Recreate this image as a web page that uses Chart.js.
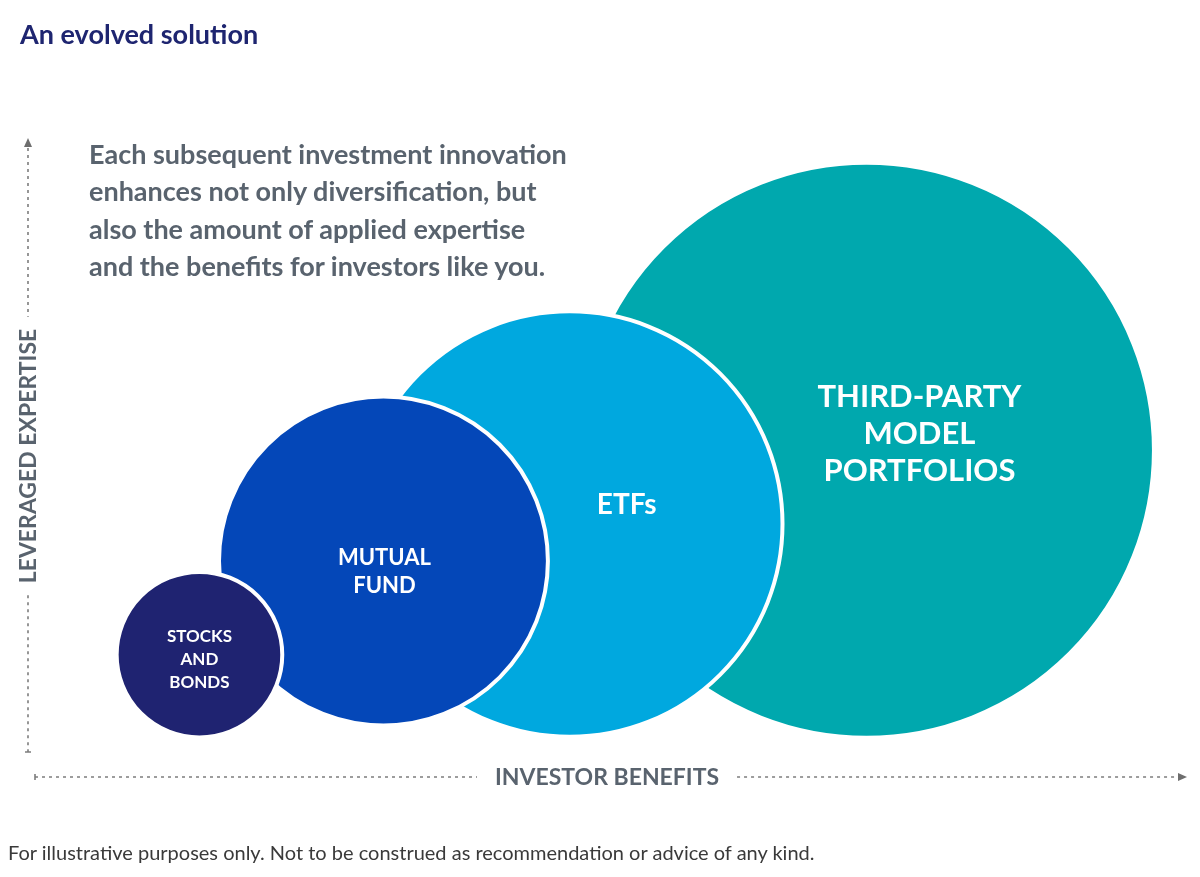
<!DOCTYPE html>
<html>
<head>
<meta charset="utf-8">
<script src="https://cdn.jsdelivr.net/npm/chart.js@4"></script>
<style>
  body { margin: 0; background: #fff; font-family: "Lato", sans-serif; }
  #wrap { position: relative; width: 1200px; height: 877px; }
  #wrap canvas { position: absolute; left: 0; top: 0; }
  .title { position: absolute; left: 20px; top: 17px; font-size: 27px; font-weight: 700; color: #1e2570; margin: 0; }
  .intro { position: absolute; left: 89px; top: 135px; font-size: 27px; line-height: 37.3px; font-weight: 700; color: #59636e; margin: 0; }
  .note { position: absolute; left: 8px; top: 840px; font-size: 20px; color: #3a3a3a; margin: 0; }
</style>
</head>
<body>
<div id="wrap">
  <canvas id="evolvedChart" width="1200" height="877"></canvas>
  <p class="title">An evolved solution</p>
  <p class="intro">Each subsequent investment innovation<br>enhances not only diversification, but<br>also the amount of applied expertise<br>and the benefits for investors like you.</p>
  <p class="note">For illustrative purposes only. Not to be construed as recommendation or advice of any kind.</p>
</div>
<script>
// products, from the oldest / smallest to the newest / largest
const products = [["STOCKS", "AND", "BONDS"], ["MUTUAL", "FUND"], ["ETFs"], ["THIRD-PARTY", "MODEL", "PORTFOLIOS"]];
const investorBenefits = [14.3, 30.3, 46.5, 72.3];   // x, 0-100
const leveragedExpertise = [19.2, 33.9, 39.7, 51.3]; // y, 0-100
const bubbleSize = [7.2, 14.3, 18.5, 25.0];          // radius, in x units
const axisLabels = { x: "INVESTOR BENEFITS", y: "LEVERAGED EXPERTISE" };

const colors = ["#1f2371", "#0447b8", "#00a8df", "#00a8ae"];
const labelFont = [
  { size: 17, line: 23, dx: 0, dy: 5 },
  { size: 22, line: 28, dx: 1, dy: 11 },
  { size: 28, line: 30, dx: 57, dy: -19 },
  { size: 31, line: 37, dx: 53, dy: -16 },
];
const grey = "#59636e";

// dataset 0 is drawn last, so the smallest bubble sits on top
const datasets = products.map((name, i) => ({
  label: name.join(" "),
  data: [{ x: investorBenefits[i], y: leveragedExpertise[i], size: bubbleSize[i], r: 0 }],
  backgroundColor: colors[i],
  borderColor: "#ffffff",
  borderWidth: 4,
  hoverRadius: 0,
  clip: false,
}));

// Labels drawn in the middle of each bubble
const bubbleLabels = {
  id: "bubbleLabels",
  afterDatasetsDraw(chart) {
    const { ctx } = chart;
    ctx.save();
    ctx.fillStyle = "#ffffff";
    ctx.textAlign = "center";
    ctx.textBaseline = "middle";
    chart.data.datasets.forEach((ds, i) => {
      const pt = chart.getDatasetMeta(i).data[0];
      const f = labelFont[i];
      const lines = products[i];
      ctx.font = `700 ${f.size}px Lato, sans-serif`;
      const top = pt.y + f.dy - ((lines.length - 1) * f.line) / 2;
      lines.forEach((t, k) => ctx.fillText(t, pt.x + f.dx, top + k * f.line));
    });
    ctx.restore();
  },
};

// Dotted axes with arrows and the axis titles set in the line
const dottedAxes = {
  id: "dottedAxes",
  beforeDatasetsDraw(chart) {
    const { ctx, chartArea: { left, right, top, bottom } } = chart;
    const vx = left - 7;
    const vBottom = bottom - 25;
    const hy = bottom;
    ctx.save();
    ctx.strokeStyle = "#7d7d7d";
    ctx.fillStyle = "#6e6e6e";
    ctx.lineWidth = 1.6;
    ctx.setLineDash([3, 4]);

    // vertical axis
    ctx.font = "700 23px Lato, sans-serif";
    const yMid = (top + vBottom) / 2 + 10;
    const yHalf = ctx.measureText(axisLabels.y).width / 2;
    ctx.beginPath();
    ctx.moveTo(vx, top + 8);
    ctx.lineTo(vx, yMid - yHalf - 12);
    ctx.moveTo(vx, yMid + yHalf + 12);
    ctx.lineTo(vx, vBottom);
    ctx.stroke();

    // horizontal axis
    const xMid = (left + right) / 2 - 3;
    const xHalf = ctx.measureText(axisLabels.x).width / 2;
    ctx.beginPath();
    ctx.moveTo(left, hy);
    ctx.lineTo(xMid - xHalf - 18, hy);
    ctx.moveTo(xMid + xHalf + 18, hy);
    ctx.lineTo(right - 8, hy);
    ctx.stroke();

    ctx.setLineDash([]);
    // end ticks
    ctx.beginPath();
    ctx.moveTo(vx - 3, vBottom);
    ctx.lineTo(vx + 3, vBottom);
    ctx.moveTo(left, hy - 3);
    ctx.lineTo(left, hy + 3);
    ctx.stroke();
    // arrow heads
    ctx.beginPath();
    ctx.moveTo(vx, top - 2);
    ctx.lineTo(vx - 4, top + 7);
    ctx.lineTo(vx + 4, top + 7);
    ctx.closePath();
    ctx.fill();
    ctx.beginPath();
    ctx.moveTo(right + 2, hy);
    ctx.lineTo(right - 7, hy - 4);
    ctx.lineTo(right - 7, hy + 4);
    ctx.closePath();
    ctx.fill();

    // titles
    ctx.fillStyle = grey;
    ctx.textAlign = "center";
    ctx.textBaseline = "middle";
    ctx.fillText(axisLabels.x, xMid, hy + 1);
    ctx.translate(vx, yMid);
    ctx.rotate(-Math.PI / 2);
    ctx.fillText(axisLabels.y, 0, 1);
    ctx.restore();
  },
};

const chart = new Chart(document.getElementById("evolvedChart"), {
  type: "bubble",
  data: { datasets },
  options: {
    responsive: false,
    animation: false,
    events: [],
    layout: { autoPadding: false, padding: { left: 35, right: 15, top: 140, bottom: 100 } },
    scales: {
      x: { type: "linear", min: 0, max: 100, display: false },
      y: { type: "linear", min: 0, max: 100, display: false },
    },
    plugins: {
      legend: { display: false },
      tooltip: { enabled: false },
    },
  },
  plugins: [dottedAxes, bubbleLabels],
});

// once the scales are laid out, turn the sizes (x units) into bubble radii
const xScale = chart.scales.x;
chart.data.datasets.forEach((ds) => {
  ds.data.forEach((p) => {
    p.r = Math.abs(xScale.getPixelForValue(p.size) - xScale.getPixelForValue(0));
  });
});
chart.update();
</script>
</body>
</html>
